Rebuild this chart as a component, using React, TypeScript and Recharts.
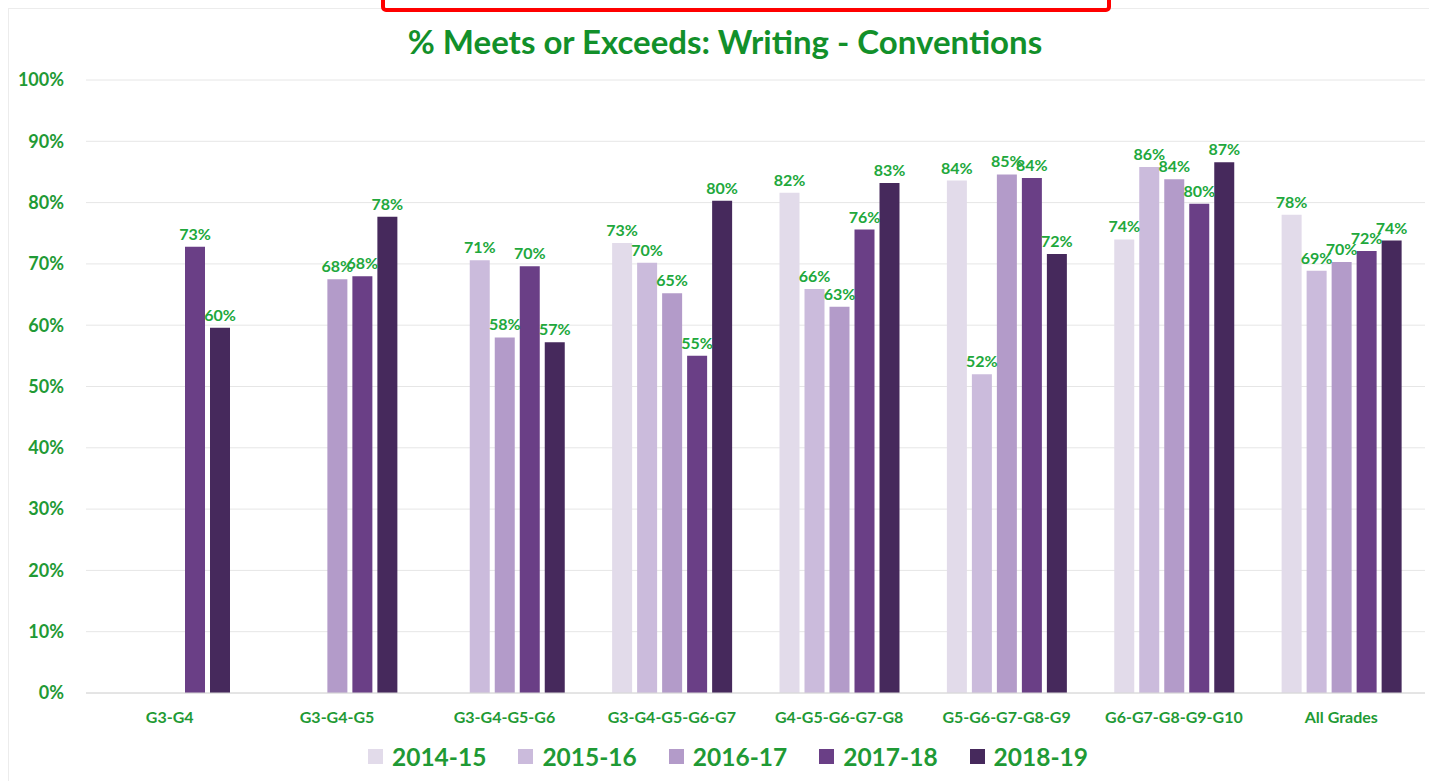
import React from 'react';
import { BarChart, Bar, XAxis, YAxis, CartesianGrid, Legend, LabelList } from 'recharts';

const categories = [
  'G3-G4',
  'G3-G4-G5',
  'G3-G4-G5-G6',
  'G3-G4-G5-G6-G7',
  'G4-G5-G6-G7-G8',
  'G5-G6-G7-G8-G9',
  'G6-G7-G8-G9-G10',
  'All Grades',
];

const y2014_15 = [null, null, null, 73.4, 81.6, 83.6, 74.0, 78.0];
const y2015_16 = [null, null, 70.6, 70.2, 65.9, 52.0, 85.8, 68.9];
const y2016_17 = [null, 67.5, 58.0, 65.2, 63.0, 84.6, 83.8, 70.3];
const y2017_18 = [72.8, 68.0, 69.6, 55.0, 75.6, 84.0, 79.8, 72.1];
const y2018_19 = [59.6, 77.7, 57.2, 80.3, 83.2, 71.6, 86.6, 73.8];

const yTicks = [0, 10, 20, 30, 40, 50, 60, 70, 80, 90, 100];

const seriesNames = ['2014-15', '2015-16', '2016-17', '2017-18', '2018-19'];
const seriesColors = ['#e2dbea', '#cbbbdc', '#b39bc9', '#6a3f86', '#46295c'];
const seriesValues = [y2014_15, y2015_16, y2016_17, y2017_18, y2018_19];

const data = categories.map((cat, i) => {
  const row: Record<string, any> = { name: cat };
  seriesNames.forEach((s, j) => {
    row[s] = seriesValues[j][i];
  });
  return row;
});

const GREEN = '#1f9a35';
const FONT = 'Lato, "Open Sans", sans-serif';

const pct = (v: any) => (v == null ? '' : `${Math.round(Number(v))}%`);

const LegendContent = () => (
  <div
    style={{
      display: 'flex',
      justifyContent: 'center',
      alignItems: 'center',
      gap: 32,
      fontFamily: FONT,
    }}
  >
    {seriesNames.map((s, i) => (
      <div key={s} style={{ display: 'flex', alignItems: 'center' }}>
        <span
          style={{
            display: 'inline-block',
            width: 15,
            height: 15,
            background: seriesColors[i],
            marginRight: 9,
          }}
        />
        <span style={{ color: GREEN, fontWeight: 700, fontSize: 24.5 }}>{s}</span>
      </div>
    ))}
  </div>
);

export default function App() {
  return (
    <div
      style={{
        position: 'absolute',
        left: 0,
        top: 0,
        width: 1430,
        height: 782,
        background: '#fff',
        overflow: 'hidden',
      }}
    >
      <div
        style={{
          position: 'absolute',
          left: 8,
          top: 8,
          width: 1420,
          height: 772,
          borderTop: '1px solid #ececec',
          borderLeft: '1px solid #ececec',
        }}
      />
      <div
        style={{
          position: 'absolute',
          left: 381,
          top: -8,
          width: 722,
          height: 12,
          border: '4px solid #ff0000',
          borderRadius: 5,
        }}
      />
      <div
        style={{
          position: 'absolute',
          left: 0,
          top: 21,
          width: 1450,
          textAlign: 'center',
          fontFamily: FONT,
          fontWeight: 700,
          fontSize: 33,
          color: '#12902a',
        }}
      >
        % Meets or Exceeds: Writing - Conventions
      </div>
      <BarChart
        width={1430}
        height={782}
        data={data}
        margin={{ top: 80, right: 5, left: 0, bottom: 49 }}
        barSize={20}
        barGap={5}
      >
        <CartesianGrid vertical={false} stroke="#e6e6e6" />
        <XAxis
          dataKey="name"
          axisLine={{ stroke: '#d6d6d6' }}
          tickLine={false}
          tickMargin={13}
          interval={0}
          height={40}
          tick={{ fill: GREEN, fontSize: 16, fontWeight: 700, fontFamily: FONT }}
        />
        <YAxis
          width={86}
          domain={[0, 100]}
          ticks={yTicks}
          axisLine={false}
          tickLine={false}
          tickMargin={16}
          tickFormatter={(v: number) => `${v}%`}
          tick={{ fill: GREEN, fontSize: 18, fontWeight: 700, fontFamily: FONT }}
        />
        <Legend
          verticalAlign="middle"
          align="center"
          layout="horizontal"
          content={<LegendContent />}
          wrapperStyle={{ top: 742, left: 0, width: 1456 }}
        />
        {seriesNames.map((s, i) => (
          <Bar key={s} dataKey={s} fill={seriesColors[i]} isAnimationActive={false}>
            <LabelList
              dataKey={s}
              position="top"
              offset={7}
              formatter={pct}
              style={{ fill: '#21a83c', fontSize: 16, fontWeight: 700, fontFamily: FONT }}
            />
          </Bar>
        ))}
      </BarChart>
    </div>
  );
}
